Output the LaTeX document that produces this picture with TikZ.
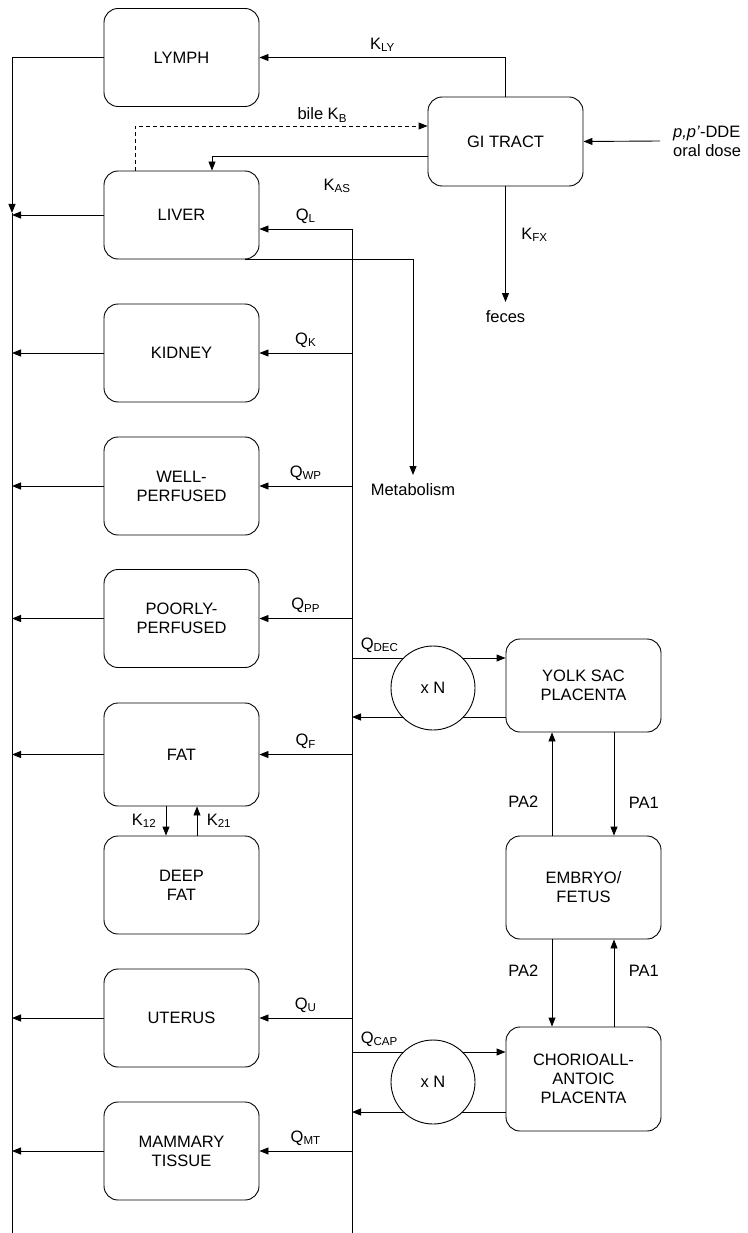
\documentclass[tikz,border=0pt]{standalone}
\usepackage{fontspec}
\setmainfont{Liberation Sans}
\usetikzlibrary{arrows.meta, positioning, shapes.geometric}

\begin{document}
\begin{tikzpicture}[
  x=1pt, y=-1pt,
  font=\fontsize{16.5}{19}\selectfont,
  compartment/.style={
    draw, line width=0.9pt, rounded corners=14pt, align=center,
    minimum width=155pt, minimum height=98pt, inner sep=2pt, fill=white
  },
  mult/.style={
    circle, draw, line width=0.9pt, fill=white, minimum size=84pt, inner sep=0pt
  },
  flow/.style={-{Triangle[length=9pt, width=7pt]}, line width=0.9pt},
  bile/.style={flow, dash pattern=on 4pt off 3pt},
  bus/.style={line width=0.9pt}
]
\useasboundingbox (0,0) rectangle (747,1233);

% ----------------- BODY COMPARTMENTS -----------------
\node[compartment] (lymph) at (181.5, 57.5) {LYMPH};
\node[compartment, minimum height=88pt] (liver) at (181.5, 215) {LIVER};
\node[compartment] (kidney) at (181.5, 353) {KIDNEY};
\node[compartment] (wellp) at (181.5, 486) {WELL-\\PERFUSED};
\node[compartment] (poorp) at (181.5, 618.5) {POORLY-\\PERFUSED};
\node[compartment, minimum height=103pt] (fat) at (181.5, 754.5) {FAT};
\node[compartment] (deepfat) at (181.5, 885) {DEEP\\FAT};
\node[compartment] (uterus) at (181.5, 1018) {UTERUS};
\node[compartment] (mammary) at (181.5, 1151) {MAMMARY\\TISSUE};

% ----------------- GI TRACT AND DOSE -----------------
\node[compartment, minimum height=89pt] (gitract) at (505.5, 141.5) {GI TRACT};
\node[anchor=west, align=left, inner xsep=13pt, inner ysep=0pt] (dose) at (660, 141) {\textit{p,p'}-DDE\\oral dose};
\node[anchor=north, inner sep=8pt] (feces) at (505.5, 302) {feces};
\node[anchor=north, inner sep=8pt] (metab) at (413, 475) {Metabolism};

% ----------------- CONCEPTUS COMPARTMENTS -----------------
\node[compartment, minimum height=93pt] (yolk) at (583.5, 685.5) {YOLK SAC\\PLACENTA};
\node[compartment, minimum height=103pt] (embryo) at (583.5, 887.5) {EMBRYO/\\FETUS};
\node[compartment, minimum height=104pt] (chorio) at (583.5, 1079) {CHORIOALL-\\ANTOIC\\PLACENTA};

% ----------------- BLOOD LINES -----------------
\coordinate (ltip) at (12, 213);
\coordinate (lend) at (12, 1233);
\coordinate (rtop) at (352, 229);
\coordinate (rend) at (352, 1233);
\coordinate (qdec) at (352, 658);
\coordinate (qdecret) at (352, 717);
\coordinate (qcap) at (352, 1052);
\coordinate (qcapret) at (352, 1112);

\draw[flow] (lymph.west) -| (ltip);
\draw[bus] (ltip) -- (lend);
\draw[bus] (rtop) -- (rend);

% Venous return
\draw[flow] (liver.west) -- (liver.west -| lend);
\draw[flow] (kidney.west) -- (kidney.west -| lend);
\draw[flow] (wellp.west) -- (wellp.west -| lend);
\draw[flow] (poorp.west) -- (poorp.west -| lend);
\draw[flow] (fat.west) -- (fat.west -| lend);
\draw[flow] (uterus.west) -- (uterus.west -| lend);
\draw[flow] (mammary.west) -- (mammary.west -| lend);

% Arterial supply
\draw[flow] (rtop) -- (rtop -| liver.east) node[midway, above, yshift=2pt] {Q\textsubscript{L}};
\draw[flow] (kidney.east -| rend) -- (kidney.east) node[midway, above, yshift=2pt] {Q\textsubscript{K}};
\draw[flow] (wellp.east -| rend) -- (wellp.east) node[midway, above, yshift=2pt] {Q\textsubscript{WP}};
\draw[flow] (poorp.east -| rend) -- (poorp.east) node[midway, above, yshift=2pt] {Q\textsubscript{PP}};
\draw[flow] (fat.east -| rend) -- (fat.east) node[midway, above, yshift=2pt] {Q\textsubscript{F}};
\draw[flow] (uterus.east -| rend) -- (uterus.east) node[midway, above, yshift=2pt] {Q\textsubscript{U}};
\draw[flow] (mammary.east -| rend) -- (mammary.east) node[midway, above, yshift=2pt] {Q\textsubscript{MT}};

% ----------------- GI TRACT EXCHANGES -----------------
\draw[flow] (dose.west) -- (gitract.east);
\draw[flow] (gitract.north) |- (lymph.east) node[pos=0.75, above, yshift=2pt] {K\textsubscript{LY}};
\draw[bile] ([xshift=-46.5pt]liver.north) |- ([yshift=15.5pt]gitract.west) node[pos=0.82, above] {bile K\textsubscript{B}};
\draw[flow] ([yshift=-14.5pt]gitract.west) -| ([xshift=30.5pt]liver.north) node[pos=0.21, yshift=-30pt] {K\textsubscript{AS}};
\draw[flow] (gitract.south) -- (feces.north) node[pos=0.42, right=12pt] {K\textsubscript{FX}};
\draw[flow] ([xshift=-14pt]liver.south east) -| (metab.north);

% ----------------- FAT EXCHANGES -----------------
\draw[flow] ([xshift=-15.5pt]fat.south) -- ([xshift=-15.5pt]deepfat.north) node[midway, left=6pt] {K\textsubscript{12}};
\draw[flow] ([xshift=15.5pt]deepfat.north) -- ([xshift=15.5pt]fat.south) node[midway, right=6pt] {K\textsubscript{21}};

% ----------------- PLACENTAL EXCHANGES -----------------
\draw[flow] (qdec) -- (qdec -| yolk.west) node[pos=0, above right, xshift=5pt, yshift=2pt] {Q\textsubscript{DEC}};
\draw[flow] (qdecret -| yolk.west) -- (qdecret);
\draw[flow] (qcap) -- (qcap -| chorio.west) node[pos=0, above right, xshift=5pt, yshift=2pt] {Q\textsubscript{CAP}};
\draw[flow] (qcapret -| chorio.west) -- (qcapret);

\draw[flow] ([xshift=-31.5pt]embryo.north) -- ([xshift=-31.5pt]yolk.south) node[pos=0.33, left=10pt] {PA2};
\draw[flow] ([xshift=30.5pt]yolk.south) -- ([xshift=30.5pt]embryo.north) node[pos=0.68, right=11pt] {PA1};
\draw[flow] ([xshift=-31.5pt]embryo.south) -- ([xshift=-31.5pt]chorio.north) node[pos=0.36, left=10pt] {PA2};
\draw[flow] ([xshift=30.5pt]chorio.north) -- ([xshift=30.5pt]embryo.south) node[pos=0.64, right=11pt] {PA1};

% Multiplier circles over the placental lines
\node[mult] (multys) at (433, 688) {x N};
\node[mult] (multca) at (433, 1082) {x N};

\end{tikzpicture}
\end{document}
